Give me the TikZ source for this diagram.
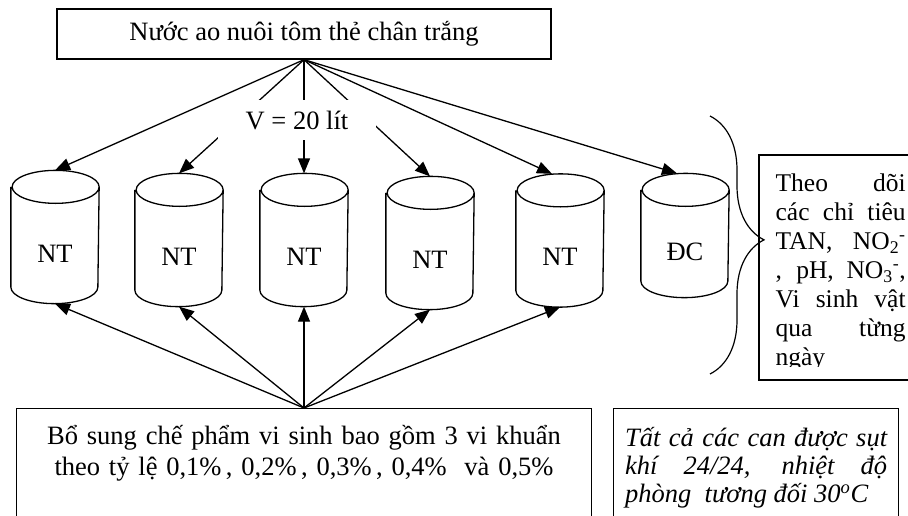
\documentclass[tikz,border=0pt]{standalone}
\usepackage{fontspec}
\setmainfont{Liberation Serif}
\usetikzlibrary{arrows.meta,decorations.pathreplacing}

\begin{document}
\begin{tikzpicture}[x=1pt, y=-1pt, line width=1.3pt,
    font=\fontsize{26.5pt}{31pt}\selectfont,
    box/.style={draw, rectangle, inner sep=0pt},
    % the node is the body under the lid, the outline is added around it
    can/.style={minimum width=87, minimum height=99, inner sep=0pt,
      append after command={\pgfextra{%
        \draw ([yshift=16.5pt]\tikzlastnode.north west) -- ([yshift=16.5pt]\tikzlastnode.south west)
          arc[start angle=180, end angle=360, x radius=43.5pt, y radius=16.5pt]
          -- ([yshift=16.5pt]\tikzlastnode.north east)
          arc[start angle=0, end angle=360, x radius=43.5pt, y radius=16.5pt];}}},
    arr/.style={-{Triangle[length=15pt,width=12pt]}}]
  \useasboundingbox (0,0) rectangle (908,515);

  \node[box, minimum width=494, minimum height=50] (src) at (304,34) {Nước ao nuôi tôm thẻ chân trắng};

  \node[can] (c1) at (55,253.5) {NT};
  \node[can] (c2) at (179,256.5) {NT};
  \node[can] (c3) at (304,256.5) {NT};
  \node[can] (c4) at (430,259.5) {NT};
  \node[can] (c5) at (560,257) {NT};
  \node[can, minimum height=90] (c6) at (685,252) {ĐC};

  \draw[arr] (src.south) -- ([yshift=33pt]c1.north);
  \draw[arr] (src.south) -- ([yshift=33pt]c2.north);
  \draw[arr] (src.south) -- ([yshift=33pt]c3.north);
  \draw[arr] (src.south) -- ([yshift=33pt]c4.north);
  \draw[arr] (src.south) -- ([xshift=-8pt,yshift=33pt]c5.north);
  \draw[arr] (src.south) -- ([xshift=-8pt,yshift=33pt]c6.north);
  \node[fill=white, minimum width=158, minimum height=40, inner sep=0pt] (vol) at (297,120) {V = 20 lít};

  \node[box, anchor=north, minimum width=575, text width=560, align=center,
    inner ysep=17, text depth=100] (feed) at (304,408)
    {Bổ sung chế phẩm vi sinh bao gồm 3 vi khuẩn\\ theo tỷ lệ 0,1\%\,, 0,2\%\,, 0,3\%\,, 0,4\%\ \ và 0,5\%};
  \draw[arr] (feed.north) -- (c1.south);
  \draw[arr] (feed.north) -- (c2.south);
  \draw[arr] (feed.north) -- (c3.south);
  \draw[arr] (feed.north) -- (c4.south);
  \draw[arr] (feed.north) -- (c5.south);

  % brace and the list of measured values
  \coordinate (bt) at (710,116);
  \coordinate (bb) at (710,374);
  \draw[line width=1.2pt, decorate, decoration={brace, amplitude=54pt, aspect=.48}] (bt) -- (bb);
  \coordinate (obsNW) at (759,155);
  \coordinate (obsSE) at (912,380);
  \begin{scope}
    \clip (obsNW) rectangle (912,366);
    \node[anchor=north west, text width=130, inner xsep=16, inner ysep=18, align=justify,
      font=\fontsize{25.5pt}{29pt}\selectfont] (obs) at (obsNW)
      {Theo dõi\linebreak các chỉ tiêu\linebreak TAN, NO\textsubscript{2}\textsuperscript{-}\linebreak
       , pH, NO\textsubscript{3}\textsuperscript{-},\linebreak Vi sinh vật\linebreak qua từng\linebreak ngày};
  \end{scope}
  \draw (obsNW) rectangle (obsSE);

  \node[box, anchor=north west, minimum width=285, text width=262, align=justify,
    inner ysep=19, text depth=80, font=\fontsize{26.5pt}{28pt}\selectfont\itshape] (note) at (613,408)
    {Tất cả các can được sụt\linebreak khí 24/24, nhiệt độ\linebreak phòng\ \ tương đối 30\textsuperscript{o}C};
\end{tikzpicture}
\end{document}
